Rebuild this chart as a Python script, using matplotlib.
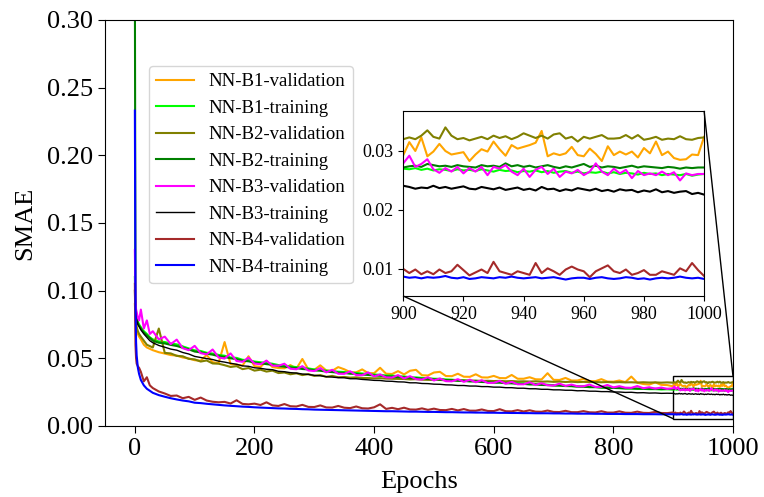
import numpy as np
import matplotlib
matplotlib.use('Agg')
import matplotlib.pyplot as plt
from mpl_toolkits.axes_grid1.inset_locator import mark_inset

plt.rcParams['font.family'] = 'serif'
plt.rcParams['font.serif'] = ['Liberation Serif', 'DejaVu Serif']

# epochs: dense-ish at the start, every 10 up to 890, every 2 in the zoomed window
head_epochs = [0, 1, 2, 3, 5, 7, 10, 15, 20, 25, 30, 40] + list(range(50, 900, 10))
tail_epochs = list(range(900, 1001, 2))

# all values below are SMAE x 1000
b1_val_head = [90, 80, 75, 72, 68, 66, 64, 60, 58, 57, 56, 54.5,
               53.5, 52.4, 52.0, 50.6, 49.9, 48.6, 48.2, 52.5, 47.1, 46.5,
               62.0, 45.7, 45.3, 44.6, 51.5, 44.2, 43.6, 48.0, 43.5, 42.8,
               42.6, 45.0, 42.3, 49.5, 41.8, 41.5, 44.8, 41.0, 40.8, 43.5,
               41.9, 39.8, 39.6, 41.8, 39.1, 39.0, 43.0, 38.6, 38.4, 40.5,
               38.1, 40.8, 41.5, 37.5, 37.3, 39.5, 40.0, 36.9, 36.8, 38.6,
               36.4, 36.3, 38.2, 35.9, 35.8, 37.0, 35.4, 35.3, 37.7, 34.9,
               34.9, 36.0, 34.5, 34.4, 39.0, 34.1, 34.0, 35.5, 33.6, 33.6,
               34.8, 33.2, 33.1, 34.6, 32.8, 32.7, 33.6, 32.4, 36.5, 32.0,
               31.0, 30.6, 32.2, 30.4, 30.2]
b1_val_tail = [29.3, 31.5, 30.0, 32.3, 29.1, 29.9, 31.2, 30.0, 29.4, 29.6,
               29.8, 28.3, 29.4, 30.3, 29.9, 31.6, 30.3, 29.2, 31.0, 30.4,
               30.7, 31.0, 31.4, 33.4, 29.1, 29.6, 29.3, 29.6, 30.7, 29.3,
               29.1, 30.4, 29.5, 28.3, 30.8, 29.3, 29.9, 29.4, 29.9, 28.9,
               30.5, 29.6, 31.6, 29.3, 29.9, 28.8, 28.5, 28.6, 29.4, 29.3,
               32.4]

b1_train_head = [110, 88, 83, 80, 77, 75, 73, 70, 68, 65.5, 64, 62.5,
                 62.0, 60.9, 60.3, 58.8, 57.3, 55.9, 55.4, 54.1, 53.5, 52.5,
                 51.9, 50.6, 50.3, 48.9, 48.6, 47.6, 47.1, 46.5, 46.0, 45.0,
                 44.6, 44.0, 43.5, 43.0, 42.5, 41.8, 41.6, 40.9, 40.5, 40.1,
                 39.9, 39.3, 39.2, 38.8, 38.3, 38.0, 37.8, 37.3, 37.3, 36.7,
                 36.6, 36.0, 35.9, 35.5, 35.3, 34.9, 34.8, 34.4, 34.2, 33.8,
                 33.8, 33.3, 33.3, 32.9, 32.8, 32.4, 32.4, 32.0, 31.9, 31.5,
                 31.5, 31.0, 31.0, 30.6, 30.5, 30.1, 30.1, 29.7, 29.6, 29.2,
                 29.2, 28.8, 28.8, 28.4, 28.4, 28.1, 28.0, 27.7, 27.7, 27.4,
                 27.4, 27.2, 27.2, 27.0, 27.1]
b1_train_tail = [27.0, 26.9, 27.1, 26.8, 27.0, 26.7, 26.9, 26.8, 26.6, 26.9,
                 26.7, 26.8, 26.6, 26.9, 26.7, 26.5, 26.8, 26.6, 26.7, 26.4,
                 26.6, 26.5, 26.7, 26.4, 26.6, 26.3, 26.5, 26.6, 26.3, 26.5,
                 26.2, 26.4, 26.3, 26.5, 26.2, 26.4, 26.1, 26.3, 26.2, 26.0,
                 26.3, 26.1, 26.2, 25.9, 26.1, 26.0, 25.9, 26.1, 25.8, 26.0,
                 26.1]

b2_val_head = [100, 82, 76, 73, 70, 68, 66, 63, 60, 59, 58, 72,
               54.0, 53.6, 51.8, 51.5, 49.6, 49.2, 47.6, 48.4, 46.2, 46.0,
               44.9, 43.6, 44.2, 42.0, 42.8, 40.9, 41.6, 40.2, 40.9, 39.1,
               39.5, 38.2, 38.9, 37.6, 38.3, 37.0, 37.6, 36.3, 37.0, 36.0,
               36.2, 35.7, 35.9, 35.5, 35.4, 35.2, 35.3, 35.0, 34.9, 34.8,
               34.7, 34.4, 34.6, 34.2, 34.1, 34.1, 34.0, 33.8, 33.9, 33.6,
               33.6, 33.5, 33.5, 33.3, 33.4, 33.2, 33.3, 33.0, 33.2, 32.9,
               33.0, 32.8, 33.0, 32.7, 32.9, 32.6, 32.8, 32.5, 32.7, 32.4,
               32.6, 32.4, 32.5, 32.3, 32.5, 32.2, 32.4, 32.2, 32.3, 32.1,
               32.3, 32.1, 32.2, 32.0, 32.2]
b2_val_tail = [32.0, 32.3, 32.0, 32.6, 33.5, 32.4, 32.1, 34.0, 32.6, 32.0,
               32.2, 31.8, 32.1, 32.4, 32.0, 32.6, 32.2, 32.5, 32.0, 32.4,
               33.0, 32.6, 32.2, 32.6, 32.1, 32.8, 33.0, 32.1, 32.4, 31.6,
               32.4, 32.1, 32.4, 32.7, 32.1, 32.1, 32.2, 32.7, 32.1, 32.7,
               31.9, 32.1, 32.4, 31.9, 32.1, 32.0, 32.5, 32.0, 31.9, 32.2,
               32.3]

b2_train_head = [330, 95, 84, 80, 76, 74, 72, 69, 67, 65, 63, 61.5,
                 61.0, 59.9, 59.1, 57.8, 56.6, 55.0, 54.4, 53.4, 52.7, 51.6,
                 51.0, 50.0, 49.4, 48.2, 47.8, 46.8, 46.3, 45.7, 45.2, 44.2,
                 43.8, 43.2, 42.8, 42.1, 41.8, 41.1, 40.8, 40.2, 39.8, 39.4,
                 39.2, 38.6, 38.5, 38.0, 37.7, 37.3, 37.1, 36.7, 36.5, 36.1,
                 36.0, 35.4, 35.4, 34.9, 34.8, 34.4, 34.3, 33.9, 33.8, 33.4,
                 33.3, 32.9, 32.9, 32.5, 32.4, 32.0, 32.0, 31.6, 31.5, 31.2,
                 31.1, 30.7, 30.7, 30.3, 30.2, 29.9, 29.8, 29.5, 29.4, 29.1,
                 29.0, 28.7, 28.7, 28.4, 28.3, 28.1, 28.0, 27.8, 27.8, 27.6,
                 27.6, 27.4, 27.5, 27.3, 27.4]
b2_train_tail = [27.2, 27.4, 27.5, 27.3, 27.8, 27.6, 27.4, 27.5, 27.3, 27.6,
                 27.4, 27.3, 27.2, 27.6, 27.4, 27.5, 27.3, 27.9, 27.4, 27.6,
                 27.3, 27.5, 27.2, 27.4, 27.6, 27.3, 27.1, 27.4, 27.2, 27.5,
                 27.8, 27.3, 27.5, 27.2, 27.4, 27.3, 27.1, 27.3, 27.5, 27.2,
                 27.4, 27.3, 27.2, 27.1, 27.3, 27.2, 27.0, 27.2, 27.1, 27.2,
                 27.2]

b3_val_head = [130, 92, 86, 84, 80, 78, 86, 72, 78, 68, 70, 64,
               66.0, 60.5, 63.8, 57.5, 56.0, 59.2, 53.8, 52.9, 56.5, 50.6,
               49.8, 53.6, 48.0, 47.4, 50.5, 46.1, 45.6, 48.3, 44.6, 44.5,
               46.0, 42.3, 41.9, 44.2, 41.0, 40.6, 42.8, 39.6, 41.5, 38.6,
               38.5, 40.4, 37.6, 37.5, 39.6, 36.6, 38.1, 35.9, 35.8, 37.6,
               35.1, 36.8, 34.6, 34.3, 36.0, 33.6, 35.1, 33.1, 33.0, 34.6,
               32.6, 34.2, 32.3, 33.8, 31.8, 31.9, 33.3, 31.2, 32.6, 30.8,
               30.8, 32.3, 30.3, 31.6, 30.1, 29.9, 31.3, 29.6, 30.6, 29.3,
               29.3, 30.6, 28.9, 28.9, 30.3, 28.5, 29.4, 28.3, 28.2, 29.5,
               27.9, 28.6, 27.6, 28.4, 27.4]
b3_val_tail = [27.9, 29.2, 27.3, 27.8, 28.6, 26.9, 26.3, 27.1, 26.5, 27.3,
               26.2, 27.1, 26.5, 27.3, 25.9, 27.3, 27.0, 27.6, 26.5, 25.9,
               27.0, 25.6, 26.8, 27.3, 26.1, 27.0, 25.6, 26.5, 26.2, 26.8,
               25.9, 26.5, 27.9, 26.5, 25.9, 27.0, 26.2, 26.8, 25.4, 26.6,
               25.9, 26.2, 25.9, 26.5, 25.9, 26.4, 25.0, 26.2, 25.9, 26.1,
               26.1]

b3_train_head = [95, 85, 80.5, 78, 75, 73.5, 71, 68, 65.5, 63, 61.5, 59.5,
                 58.2, 56.8, 56.0, 54.3, 53.2, 51.4, 50.6, 49.8, 49.1, 47.9,
                 47.2, 46.3, 45.6, 44.4, 44.1, 43.0, 42.6, 41.9, 41.6, 40.4,
                 40.1, 39.4, 39.1, 38.4, 38.1, 37.4, 37.1, 36.4, 36.1, 35.7,
                 35.6, 34.9, 34.9, 34.4, 34.1, 33.7, 33.6, 33.1, 33.0, 32.6,
                 32.5, 31.9, 31.9, 31.4, 31.3, 30.9, 30.8, 30.4, 30.3, 29.9,
                 29.9, 29.5, 29.5, 29.1, 29.1, 28.7, 28.7, 28.3, 28.3, 27.9,
                 27.9, 27.5, 27.5, 27.1, 27.1, 26.7, 26.7, 26.4, 26.4, 26.0,
                 26.1, 25.7, 25.7, 25.4, 25.4, 25.1, 25.1, 24.8, 24.9, 24.5,
                 24.6, 24.3, 24.4, 24.1, 24.2]
b3_train_tail = [24.1, 23.9, 23.6, 23.8, 23.7, 24.1, 23.7, 23.9, 23.6, 23.8,
                 24.0, 23.6, 23.5, 23.9, 23.7, 23.5, 23.8, 23.4, 23.6, 23.8,
                 23.4, 23.6, 23.3, 23.9, 23.5, 23.6, 23.2, 23.5, 23.3, 23.7,
                 23.5, 23.3, 23.6, 23.2, 23.4, 23.1, 23.5, 23.3, 23.4, 23.0,
                 23.3, 23.1, 23.5, 23.0, 23.2, 22.9, 23.1, 23.2, 22.7, 22.9,
                 22.6]

b4_val_head = [105, 60, 50, 46, 44, 43, 40, 33, 36, 30, 28, 25.5,
               24.0, 22.2, 22.5, 20.5, 21.5, 19.3, 21.0, 18.8, 17.9, 17.5,
               17.8, 16.6, 19.0, 16.3, 16.0, 16.5, 15.5, 17.5, 15.2, 14.8,
               16.2, 14.6, 14.4, 15.6, 14.1, 14.0, 15.2, 13.7, 13.6, 14.8,
               13.5, 13.2, 14.4, 13.1, 12.9, 13.8, 16.0, 12.6, 13.4, 12.4,
               13.5, 12.2, 12.1, 13.0, 11.9, 12.8, 11.8, 11.7, 12.6, 11.5,
               12.5, 11.3, 11.3, 12.2, 11.1, 11.0, 12.4, 10.9, 10.8, 11.7,
               10.7, 11.6, 10.6, 10.5, 11.4, 10.4, 10.3, 11.2, 10.2, 10.2,
               11.0, 10.1, 10.0, 10.9, 9.9, 9.9, 10.8, 9.8, 9.7, 10.6,
               9.7, 9.6, 10.4, 9.6, 9.5]
b4_val_tail = [10.0, 9.3, 9.9, 9.1, 9.6, 9.1, 9.9, 9.3, 9.6, 10.7,
               9.8, 8.9, 9.4, 9.9, 9.3, 11.2, 9.6, 9.3, 9.0, 9.6,
               9.3, 9.0, 11.0, 9.3, 10.1, 9.6, 9.0, 9.9, 10.4, 9.9,
               9.6, 8.6, 9.6, 10.1, 10.6, 9.6, 9.3, 9.9, 9.0, 9.3,
               9.8, 9.0, 9.0, 9.6, 9.3, 9.0, 10.1, 9.6, 11.0, 9.8,
               8.8]

b4_train_head = [233, 90, 62, 52, 43, 38.5, 34, 30, 27.5, 26, 24.5, 22.8,
                 21.6, 20.5, 19.6, 18.8, 18.2, 17.2, 16.9, 16.4, 16.0, 15.6,
                 15.2, 14.9, 14.6, 14.3, 14.1, 13.8, 13.6, 13.4, 13.2, 13.0,
                 12.9, 12.7, 12.6, 12.4, 12.3, 12.1, 12.0, 11.9, 11.8, 11.7,
                 11.6, 11.5, 11.4, 11.3, 11.2, 11.1, 11.0, 10.9, 10.9, 10.8,
                 10.7, 10.6, 10.6, 10.5, 10.4, 10.4, 10.3, 10.2, 10.2, 10.1,
                 10.0, 10.0, 9.9, 9.9, 9.8, 9.8, 9.7, 9.7, 9.6, 9.6,
                 9.5, 9.5, 9.4, 9.4, 9.4, 9.3, 9.3, 9.2, 9.2, 9.1,
                 9.1, 9.1, 9.0, 9.0, 8.9, 8.9, 8.9, 8.8, 8.8, 8.8,
                 8.7, 8.7, 8.7, 8.6, 8.6]
b4_train_tail = [8.7, 8.5, 8.6, 8.4, 8.6, 8.5, 8.6, 8.8, 8.5, 8.4,
                 8.6, 8.3, 8.4, 8.6, 8.5, 8.4, 8.6, 8.5, 8.7, 8.5,
                 8.4, 8.5, 8.6, 8.4, 8.5, 8.6, 8.4, 8.2, 8.4, 8.5,
                 8.5, 8.3, 8.5, 8.6, 8.4, 8.3, 8.4, 8.6, 8.5, 8.3,
                 8.4, 8.2, 8.4, 8.5, 8.4, 8.5, 8.7, 8.5, 8.4, 8.5,
                 8.3]

labels = ['NN-B1-validation', 'NN-B1-training', 'NN-B2-validation', 'NN-B2-training',
          'NN-B3-validation', 'NN-B3-training', 'NN-B4-validation', 'NN-B4-training']
colors = ['orange', 'lime', 'olive', 'green', 'magenta', 'black', 'brown', 'blue']

epochs = np.array(head_epochs + tail_epochs)
curves = [np.array(h + t) / 1000.0 for h, t in [
    (b1_val_head, b1_val_tail), (b1_train_head, b1_train_tail),
    (b2_val_head, b2_val_tail), (b2_train_head, b2_train_tail),
    (b3_val_head, b3_val_tail), (b3_train_head, b3_train_tail),
    (b4_val_head, b4_val_tail), (b4_train_head, b4_train_tail)]]

fig = plt.figure(figsize=(7.64, 4.97), dpi=100)
ax = fig.add_axes([0.1374, 0.1429, 0.822, 0.817])

for lab, col, y in zip(labels, colors, curves):
    lw = 1.0 if col == 'black' else 1.5
    ax.plot(epochs, y, color=col, lw=lw, label=lab)

ax.set_xlim(-50, 1000)
ax.set_ylim(0, 0.3)
ax.set_xticks(range(0, 1001, 200))
ax.set_yticks(np.arange(0, 0.31, 0.05))
ax.tick_params(labelsize=19, length=5)
ax.set_xlabel('Epochs', fontsize=19, labelpad=8)
ax.set_ylabel('SMAE', fontsize=19, labelpad=8)
ax.legend(loc='upper left', bbox_to_anchor=(0.07, 0.887), borderaxespad=0,
          fontsize=13.5)

# zoomed window on the last 100 epochs
axins = ax.inset_axes([0.475, 0.32, 0.479, 0.456])
for col, y in zip(colors, curves):
    axins.plot(epochs, y, color=col, lw=1.5)
axins.set_xlim(900, 1000)
axins.set_ylim(0.0054, 0.0368)
axins.set_xticks(range(900, 1001, 20))
axins.set_yticks([0.01, 0.02, 0.03])
axins.tick_params(labelsize=13)
mark_inset(ax, axins, loc1=1, loc2=3, fc='none', ec='black', lw=1)

fig.savefig('out.png', dpi=100)
